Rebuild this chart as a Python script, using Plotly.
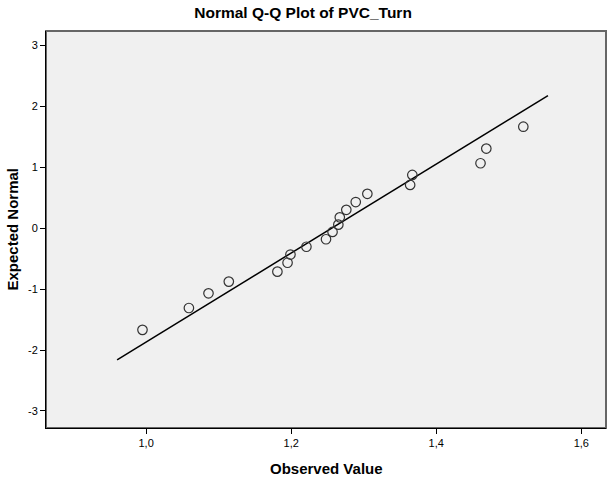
import plotly.graph_objects as go

observed = [0.995, 1.059, 1.086, 1.114, 1.181, 1.195, 1.199, 1.221, 1.248, 1.257,
            1.265, 1.267, 1.276, 1.289, 1.305, 1.364, 1.367, 1.461, 1.469, 1.520]
expected = [-1.668, -1.309, -1.068, -0.876, -0.712, -0.566, -0.431, -0.303, -0.180, -0.060,
            0.060, 0.180, 0.303, 0.431, 0.566, 0.712, 0.876, 1.068, 1.309, 1.668]

# Reference line endpoints
line_x = [0.960, 1.554]
line_y = [-2.16, 2.18]

x_ticks = [1.0, 1.2, 1.4, 1.6]
x_labels = ["1,0", "1,2", "1,4", "1,6"]
y_ticks = [-3, -2, -1, 0, 1, 2, 3]
y_labels = ["-3", "-2", "-1", "0", "1", "2", "3"]

FONT = "Liberation Sans, Arial, sans-serif"

fig = go.Figure()
fig.add_trace(go.Scatter(x=line_x, y=line_y, mode="lines",
                         line=dict(color="black", width=1.5), hoverinfo="skip",
                         showlegend=False))
fig.add_trace(go.Scatter(x=observed, y=expected, mode="markers",
                         marker=dict(symbol="circle-open", size=9.5,
                                     color="#333333", line=dict(width=1.2, color="#333333")),
                         showlegend=False))

fig.update_layout(
    width=616, height=478,
    margin=dict(l=46, r=10, t=31, b=50),
    paper_bgcolor="white",
    plot_bgcolor="#F0F0F0",
    font=dict(family=FONT, size=11, color="black"),
    title=dict(text="<b>Normal Q-Q Plot of PVC_Turn</b>", x=0.492, xanchor="center",
               y=0.974, yanchor="middle", font=dict(family=FONT, size=15.5, color="black")),
    xaxis=dict(range=[0.862, 1.634], tickvals=x_ticks, ticktext=x_labels, automargin=False,
               showgrid=False, zeroline=False, showline=True, linecolor="black", linewidth=1,
               ticks="outside", ticklen=5, tickcolor="black"),
    yaxis=dict(range=[-3.28, 3.24], tickvals=y_ticks, ticktext=y_labels, automargin=False,
               showgrid=False, zeroline=False, showline=True, linecolor="black", linewidth=1,
               ticks="outside", ticklen=5, tickcolor="black"),
    shapes=[dict(type="rect", xref="paper", yref="paper", x0=0, x1=1, y0=0, y1=1,
                 line=dict(color="#666666", width=2), layer="below")],
    annotations=[
        dict(text="<b>Observed Value</b>", xref="paper", yref="paper", x=0.5, y=0,
             yshift=-40, showarrow=False, xanchor="center", yanchor="middle",
             font=dict(family=FONT, size=15, color="black")),
        dict(text="<b>Expected Normal</b>", xref="paper", yref="paper", x=0, y=0.5,
             xshift=-34, showarrow=False, textangle=-90, xanchor="center", yanchor="middle",
             font=dict(family=FONT, size=15, color="black")),
    ],
)

fig.write_html("out.html", config={"displayModeBar": False},
               post_script="document.body.style.margin='0';document.body.style.padding='0';")
